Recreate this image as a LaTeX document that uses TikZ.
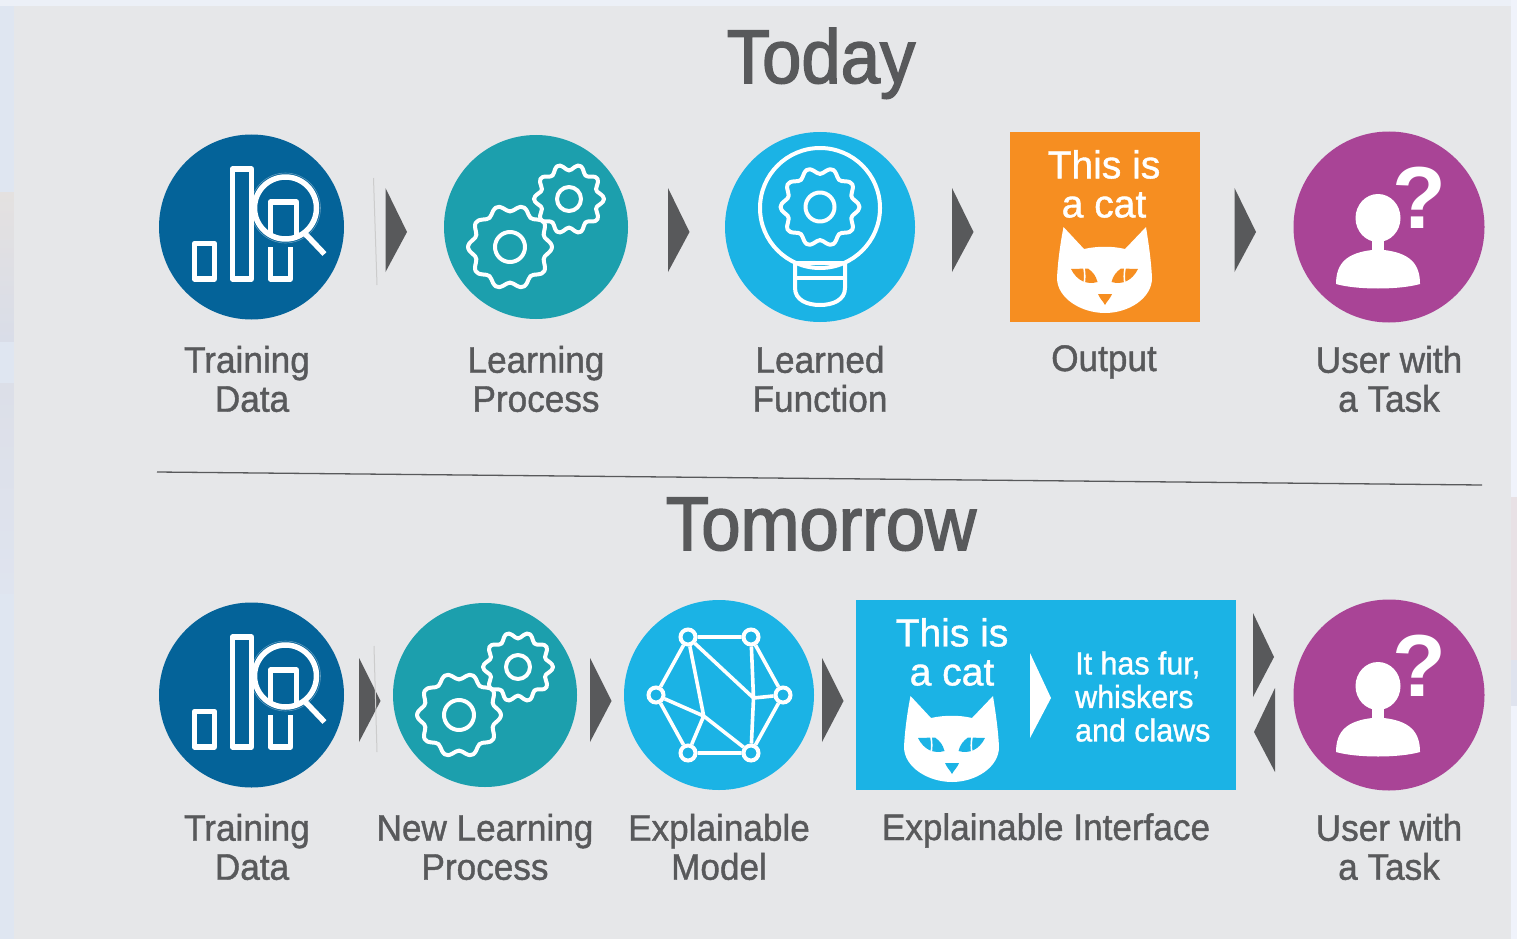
\documentclass[tikz,border=0pt]{standalone}
\usepackage{fontspec}
\setmainfont[FakeStretch=0.95,FakeBold=1.1]{Liberation Sans}
\newfontfamily\headfont[FakeStretch=0.93,FakeBold=2]{Liberation Sans}
\newfontfamily\boxfont[FakeStretch=1.0,FakeBold=1]{Liberation Sans}
\newfontfamily\qfont{Liberation Sans Bold}
\definecolor{bgmain}{HTML}{E6E7E9}
\definecolor{bgleft}{HTML}{DFE6F1}
\definecolor{bgright}{HTML}{F0F3FB}
\definecolor{smudgea}{HTML}{E4E1E0}
\definecolor{smudgeb}{HTML}{D9DDE8}
\definecolor{smudgec}{HTML}{DCDFE8}
\definecolor{smudged}{HTML}{DFE4EF}
\definecolor{pinka}{HTML}{E8E1E5}
\definecolor{pinkb}{HTML}{DFE3EE}
\definecolor{txt}{HTML}{58595B}
\definecolor{navy}{HTML}{046399}
\definecolor{teal}{HTML}{1C9FAD}
\definecolor{sky}{HTML}{1BB3E5}
\definecolor{amber}{HTML}{F68E21}
\definecolor{plum}{HTML}{A94496}
\tikzset{
  x=1pt,y=-1pt,
  disc/.style={circle,inner sep=0,outer sep=0},
  lab/.style={text=txt,font=\fontsize{37}{39}\selectfont,align=center,inner sep=0},
  head/.style={text=txt,font=\headfont\fontsize{76}{80}\selectfont,inner sep=0,anchor=base},
  wht/.style={text=white,align=center,inner sep=0},
  tri/.style={fill=#1,draw=none},
  ico/.style={draw=white,line width=#1,line join=round},
  net/.style={circle,draw=white,fill=sky,line width=4pt,minimum size=15pt,inner sep=0},
}
\newcommand{\gearat}[6]{% x y R teeth innerR lw
  \begin{scope}[shift={(#1,#2)}]
    \draw[ico=#6] plot[smooth cycle,samples=72,domain=0:355] (\x:{#3-3.2+3.2*cos(#4*\x)});
    \draw[ico=#6] (0,0) circle[radius=#5];
  \end{scope}}
\newcommand{\dataicon}[2]{%
  \begin{scope}[shift={(#1,#2)}]
    \draw[ico=5.5pt] (-57,16.5) rectangle (-37,52);
    \draw[ico=5.5pt] (-19,-58) rectangle (0,52);
    \draw[ico=5.5pt] (19,20) -- (19,52) -- (39,52) -- (39,20);
    \draw[ico=5.5pt] (19,8) -- (19,-25) -- (45,-25) -- (45,8);
    \draw[white,opacity=.35,line width=.6pt] (34,-19) circle[radius=35];
    \draw[ico=5.5pt] (34,-19) circle[radius=31];
    \draw[ico=5.5pt] (52,5) -- (73,27);
  \end{scope}}
\newcommand{\catface}[3]{%
  \begin{scope}[shift={(#1,#2)}]
    \fill[white] (-41.5,-43) -- (-21,-21) .. controls (-8,-24) and (8,-24) .. (20,-21)
      -- (41,-43) .. controls (43,-30) and (46,-12) .. (47,8)
      .. controls (47,28) and (24,43) .. (0,43)
      .. controls (-24,43) and (-48,28) .. (-48,8)
      .. controls (-47,-12) and (-44,-30) .. (-41.5,-43) -- cycle;
    \fill[#3] (-34,-1) -- (-17,-1.5) .. controls (-12,2) and (-9,6) .. (-7.5,12)
      .. controls (-18,15) and (-28,11) .. (-34,-1) -- cycle;
    \fill[#3] (33,-1) -- (16,-1.5) .. controls (11,2) and (8,6) .. (6.5,12)
      .. controls (17,15) and (27,11) .. (33,-1) -- cycle;
    \draw[white,line width=1.6pt] (-21,-2) .. controls (-20,4) and (-20,9) .. (-21,14);
    \draw[white,line width=1.6pt] (20,-2) .. controls (19,4) and (19,9) .. (20,14);
    \fill[#3] (-7,24) -- (7,24) .. controls (5,29) and (2,31) .. (0,35)
      .. controls (-2,31) and (-5,29) .. (-7,24) -- cycle;
  \end{scope}}
\newcommand{\usericon}[3]{%
  \begin{scope}[shift={(#1,#2)}]
    \fill[white] (-11,3) ellipse[x radius=22.5,y radius=24];
    \fill[white] (-17,14) rectangle (-5,40);
    \fill[white] (-53,69) .. controls (-53,48) and (-42,38) .. (-17,35)
      -- (-5,35) .. controls (20,38) and (31,48) .. (31,69)
      .. controls (10,75) and (-32,75) .. (-53,69) -- cycle;
  \end{scope}
  \node[text=white,font=\qfont\fontsize{88}{88}\selectfont,inner sep=0] (#3) at (#1+30,#2-17) {?};}
\begin{document}
\begin{tikzpicture}
\useasboundingbox (0,0) rectangle (1517,939);
\fill[bgleft] (0,0) rectangle (14,939);
\fill[bgleft!60!white] (0,0) rectangle (1517,6);
\fill[bgright] (1511,0) rectangle (1517,939);
\shade[top color=smudgea,bottom color=smudgeb] (0,192) rectangle (14,341);
\shade[top color=smudgec,bottom color=smudged] (0,383) rectangle (14,593);
\fill[pinka] (1511,497) rectangle (1517,660);
\fill[pinkb] (1511,660) rectangle (1517,706);
\fill[bgmain] (14,6) rectangle (1511,939);

\node[head] (today) at (821,83) {Today};
\node[head] (tomorrow) at (821,550) {Tomorrow};
\coordinate (divl) at (157,472);
\coordinate (divr) at (1482,485);
\draw[txt,line width=1.3pt] (divl) -- (divr);

% ---- row 1
\node[disc,fill=navy,minimum size=185pt] (d1) at (251.5,227) {};
\node[disc,fill=teal,minimum size=184pt] (t1) at (536,227) {};
\node[disc,fill=sky,minimum size=190pt] (b1) at (820,227) {};
\node[fill=amber,minimum width=190pt,minimum height=190pt,inner sep=0] (o1) at (1105,227) {};
\node[disc,fill=plum,minimum size=191pt] (u1) at (1389,227) {};

\dataicon{251.5}{227}
\gearat{510}{247}{42}{10}{15}{4pt}
\gearat{569}{199}{35}{10}{12}{4pt}
\draw[ico=4pt] (820,208) circle[radius=60];
\gearat{820}{207}{39.5}{10}{14.5}{4pt}
\draw[ico=4pt] (795,261) -- (795,288) .. controls (795,300) and (807,305) .. (820,305)
  .. controls (833,305) and (845,300) .. (845,288) -- (845,261);
\draw[ico=4pt] (795,263) -- (845,263) (795,278) -- (845,278);
\node[wht,font=\boxfont\fontsize{39}{39}\selectfont] (oc1) at (1104,184) {This is\\a cat};
\catface{1105}{270}{amber}
\usericon{1389}{215}{qm1}

\foreach \xa in {385.5,668,952,1234.5}
  \fill[tri=txt] (\xa,188) -- (\xa+21.5,232) -- (\xa,272) -- cycle;
\draw[black!20,line width=1pt] (373.5,178) -- (377,285);

\node[lab] (l11) at (252,379) {\hspace*{-10pt}Training\\Data};
\node[lab] (l12) at (536,379) {Learning\\Process};
\node[lab] (l13) at (820,379) {Learned\\Function};
\node[lab,anchor=north] (l14) at (1104,345) {Output};
\node[lab] (l15) at (1389,379) {User with\\a Task};

% ---- row 2
\node[disc,fill=navy,minimum size=185pt] (d2) at (251.5,695) {};
\node[disc,fill=teal,minimum size=184pt] (t2) at (485,695) {};
\node[disc,fill=sky,minimum size=190pt] (b2) at (719,695) {};
\node[fill=sky,minimum width=380pt,minimum height=190pt,inner sep=0] (o2) at (1046,695) {};
\node[disc,fill=plum,minimum size=191pt] (u2) at (1389,695) {};

\dataicon{251.5}{695}
\gearat{459}{715}{42}{10}{15}{4pt}
\gearat{518}{667}{35}{10}{12}{4pt}

\node[net] (n1) at (688,637) {};
\node[net] (n2) at (751,637) {};
\node[net] (n3) at (783,695) {};
\node[net] (n4) at (751,753) {};
\node[net] (n5) at (688,753) {};
\node[net] (n6) at (656,695) {};
\coordinate (na) at (753.5,698);
\coordinate (nb) at (703.7,716);
\draw[ico=3.6pt] (n1)--(n2) (n2)--(n3) (n3)--(n4) (n4)--(n5) (n5)--(n6) (n6)--(n1)
  (n1)--(na) (n2)--(na) (n3)--(na) (n4)--(na)
  (n1)--(nb) (n6)--(nb) (n5)--(nb) (n4)--(nb);

\node[wht,font=\boxfont\fontsize{39}{39}\selectfont] (oc2) at (952,652) {This is\\a cat};
\catface{952}{739}{sky}
\fill[white] (1030,653) -- (1051,698) -- (1030,738) -- cycle;
\node[wht,anchor=west,align=left,font=\fontsize{32}{33.5}\selectfont] (ex) at (1075,696.5) {It has fur,\\whiskers\\and claws};
\usericon{1389}{683}{qm2}

\foreach \xa in {359,590,822}
  \fill[tri=txt] (\xa,658) -- (\xa+21.5,701) -- (\xa,742) -- cycle;
\fill[tri=txt] (1253,613) -- (1274,657) -- (1253,697) -- cycle;
\fill[tri=txt] (1275,688) -- (1254,732) -- (1275,772) -- cycle;
\draw[black!20,line width=1pt] (374,646) -- (377,752);

\node[lab] (l21) at (252,847) {\hspace*{-10pt}Training\\Data};
\node[lab] (l22) at (485,847) {New Learning\\Process};
\node[lab] (l23) at (719,847) {Explainable\\Model};
\node[lab,anchor=north] (l24) at (1046,813) {Explainable Interface};
\node[lab] (l25) at (1389,847) {User with\\a Task};
\end{tikzpicture}
\end{document}
